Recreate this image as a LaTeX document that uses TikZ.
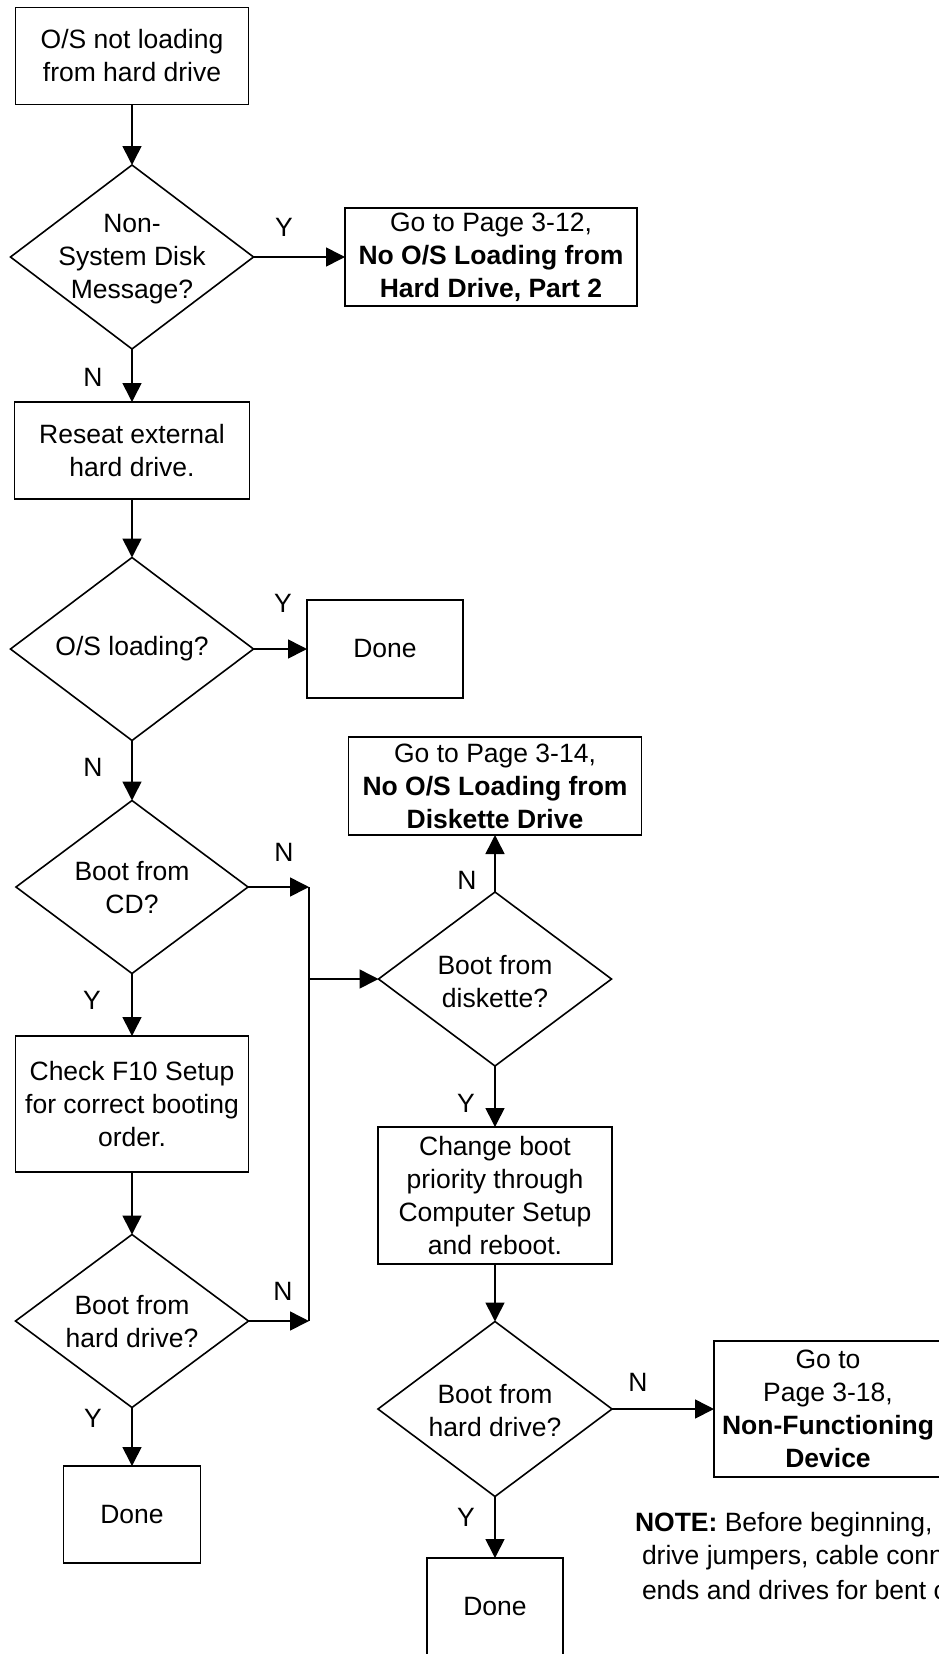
\documentclass[tikz,border=0pt]{standalone}
\usepackage{fontspec}
\setmainfont{Liberation Sans}
\usetikzlibrary{shapes.geometric,arrows.meta}
\begin{document}
\begin{tikzpicture}[x=1pt,y=-1pt,
  every node/.style={font=\fontsize{26.5}{33}\selectfont, inner sep=0pt, outer sep=0pt},
  box/.style={draw, line width=1.6pt, align=center, rectangle},
  dia/.style={draw, diamond, line width=1.6pt, inner sep=0pt, outer sep=0pt},
  txt/.style={align=center},
  lbl/.style={},
  ln/.style={line width=1.6pt},
  arr/.style={line width=1.6pt, -{Triangle[length=19pt,width=19pt]}}
]
\useasboundingbox (0,0) rectangle (939,1654);
\fill[white] (0,0) rectangle (939,1654);
\clip (0,0) rectangle (939,1654);

% left column
\node[box, minimum width=233, minimum height=97] (b1) at (132,56) {O/S not loading\\from hard drive};
\node[dia, minimum width=243, minimum height=184] (d1) at (132,257) {};
\node[txt] (d1t) at (132,259) {Non-\\System Disk\\Message?};
\node[box, minimum width=292, minimum height=98] (b2) at (491,257) {Go to Page 3-12,\\\textbf{No O/S Loading from}\\\textbf{Hard Drive, Part 2}};
\node[box, minimum width=235, minimum height=97] (b3) at (132,450.5) {Reseat external\\hard drive.};
\node[dia, minimum width=243, minimum height=183] (d2) at (132,649) {};
\node[txt] (d2t) at (132,649) {O/S loading?};
\node[box, minimum width=156, minimum height=98] (done1) at (385,649) {Done};
\node[dia, minimum width=232, minimum height=173] (d3) at (132,887) {};
\node[txt] (d3t) at (132,888) {Boot from\\CD?};
\node[box, minimum width=233, minimum height=136] (b4) at (132,1104) {Check F10 Setup\\for correct booting\\order.};
\node[dia, minimum width=233, minimum height=173] (d5) at (132,1321) {};
\node[txt] (d5t) at (132,1322) {Boot from\\hard drive?};
\node[box, minimum width=137, minimum height=97] (done2) at (132,1514.5) {Done};

% right column
\node[box, minimum width=293, minimum height=98] (b5) at (495,786) {Go to Page 3-14,\\\textbf{No O/S Loading from}\\\textbf{Diskette Drive}};
\node[dia, minimum width=233, minimum height=174] (dk) at (495,979) {};
\node[txt] (dkt) at (495,982) {Boot from\\diskette?};
\node[box, minimum width=234, minimum height=137] (b6) at (495,1195.5) {Change boot\\priority through\\Computer Setup\\and reboot.};
\node[dia, minimum width=234, minimum height=175] (d6) at (495,1409) {};
\node[txt] (d6t) at (495,1411) {Boot from\\hard drive?};
\node[box, minimum width=228, minimum height=136] (b7) at (828,1409) {Go to\\Page 3-18,\\\textbf{Non-Functioning}\\\textbf{Device}};
\node[box, minimum width=136, minimum height=97] (done3) at (495,1606.5) {Done};

% junction
\coordinate (jt) at (309,887);
\coordinate (jb) at (309,1321);
\coordinate (jm) at (309,979);

% connectors
\draw[arr] (b1.south) -- (d1.north);
\draw[arr] (d1.east) -- (b2.west);
\draw[arr] (d1.south) -- (b3.north);
\draw[arr] (b3.south) -- (d2.north);
\draw[arr] (d2.east) -- (done1.west);
\draw[arr] (d2.south) -- (d3.north);
\draw[arr] (d3.east) -- (jt);
\draw[arr] (d3.south) -- (b4.north);
\draw[arr] (b4.south) -- (d5.north);
\draw[arr] (d5.east) -- (jb);
\draw[ln] (jt) -- (jb);
\draw[arr] (jm) -- (dk.west);
\draw[arr] (d5.south) -- (done2.north);
\draw[arr] (dk.north) -- (b5.south);
\draw[arr] (dk.south) -- (b6.north);
\draw[arr] (b6.south) -- (d6.north);
\draw[arr] (d6.east) -- (b7.west);
\draw[arr] (d6.south) -- (done3.north);

% labels
\node[lbl] (l1) at (284,227) {Y};
\node[lbl] (l2) at (93,377) {N};
\node[lbl] (l3) at (283,603) {Y};
\node[lbl] (l4) at (93,767) {N};
\node[lbl] (l5) at (284,852) {N};
\node[lbl] (l6) at (92,1000) {Y};
\node[lbl] (l7) at (283,1291) {N};
\node[lbl] (l8) at (93,1418) {Y};
\node[lbl] (l9) at (467,880) {N};
\node[lbl] (l10) at (466,1103) {Y};
\node[lbl] (l11) at (638,1382) {N};
\node[lbl] (l12) at (466,1517) {Y};

% note
\node[anchor=west] (n1) at (635,1525) {\textbf{NOTE:} Before beginning,};
\node[anchor=west] (n2) at (642,1558) {drive jumpers, cable conn};
\node[anchor=west] (n3) at (642,1590) {ends and drives for bent c};
\end{tikzpicture}
\end{document}
